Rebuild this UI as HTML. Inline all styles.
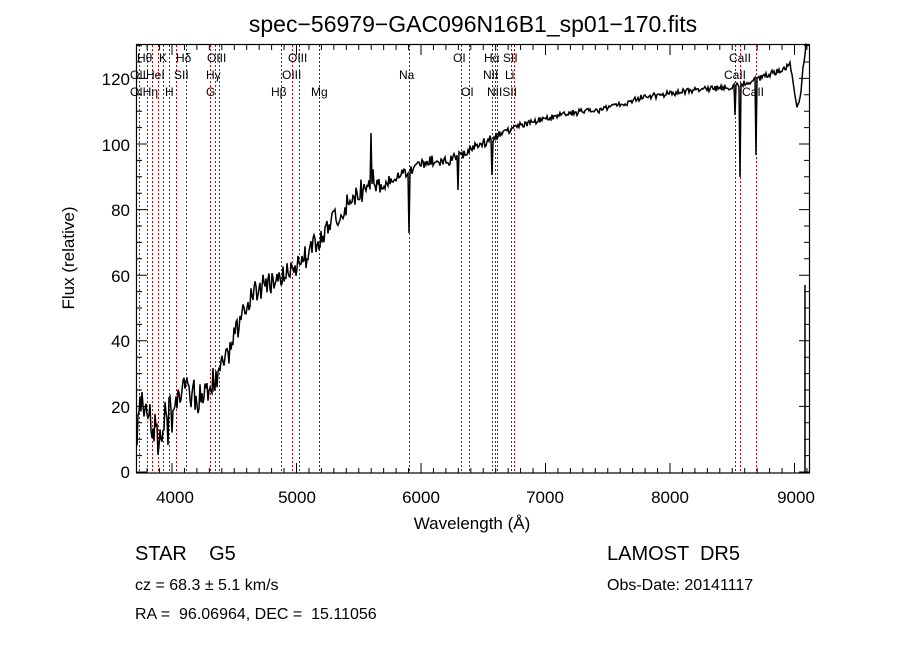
<!DOCTYPE html>
<html><head><meta charset="utf-8"><style>
body{margin:0;background:#fff;}
svg text{font-family:"Liberation Sans",sans-serif;fill:#000;white-space:pre;}
</style></head><body>
<svg id="s" width="900" height="649" xmlns="http://www.w3.org/2000/svg" xml:space="preserve">
<rect width="900" height="649" fill="#fff"/>
<text x="473" y="32" font-size="23" text-anchor="middle">spec−56979−GAC096N16B1_sp01−170.fits</text>
<g id="vl"></g>
<g id="ticks" stroke="#000" stroke-width="1"></g>
<path id="spec" fill="none" stroke="#000" stroke-width="1.5"/>
<rect x="136.5" y="44.5" width="673" height="428.5" fill="none" stroke="#000" stroke-width="1.2"/>
<g font-size="12">
<text x="137" y="62">Hθ</text><text x="159" y="62">K</text><text x="176" y="62">Hδ</text><text x="207" y="62">OIII</text><text x="288" y="62">OIII</text>
<text x="453" y="62">OI</text><text x="484" y="62">Hα</text><text x="503" y="62">SII</text><text x="729" y="62">CaII</text>
<text x="130" y="79">OIIHeI</text><text x="174" y="79">SII</text><text x="206" y="79">Hγ</text><text x="282" y="79">OIII</text><text x="399" y="79">Na</text>
<text x="483" y="79">NII</text><text x="505" y="79">Li</text><text x="724" y="79">CaII</text>
<text x="130" y="96">OIHη</text><text x="165" y="96">H</text><text x="206" y="96">G</text><text x="271" y="96">Hβ</text><text x="311" y="96">Mg</text>
<text x="461" y="96">OI</text><text x="487" y="96">NIISII</text><text x="742" y="96">CaII</text>
</g>
<g font-size="17" text-anchor="end">
<text x="130" y="478">0</text><text x="130" y="413">20</text><text x="130" y="347">40</text><text x="130" y="282">60</text><text x="130" y="216">80</text><text x="130" y="151">100</text><text x="130" y="85">120</text>
</g>
<g font-size="17" text-anchor="middle">
<text x="175" y="503">4000</text><text x="297" y="503">5000</text><text x="421" y="503">6000</text><text x="545" y="503">7000</text><text x="670" y="503">8000</text><text x="796" y="503">9000</text>
<text x="472" y="529">Wavelength (Å)</text>
</g>
<text x="74" y="258" font-size="17" text-anchor="middle" transform="rotate(-90 74 258)">Flux (relative)</text>
<text x="135" y="560" font-size="20">STAR    G5</text>
<text x="135" y="590" font-size="16">cz = 68.3 ± 5.1 km/s</text>
<text x="135" y="619" font-size="16">RA =  96.06964, DEC =  15.11056</text>
<text x="607" y="560" font-size="20">LAMOST  DR5</text>
<text x="607" y="590" font-size="16">Obs-Date: 20141117</text>
</svg>
<script>
var ns="http://www.w3.org/2000/svg";
var vl=document.getElementById('vl');
var red=[139,147,152,158,163,169,176,210,215,219,281,292,299,461,469,495,497,511,514,735,740,756];
var blk=[186,319,409,492];
function line(x,c){var l=document.createElementNS(ns,'line');l.setAttribute('x1',x+.5);l.setAttribute('x2',x+.5);l.setAttribute('y1',45);l.setAttribute('y2',473);l.setAttribute('stroke',c);l.setAttribute('stroke-dasharray','2,2');l.setAttribute('stroke-width','1');vl.appendChild(l);}
red.forEach(function(x){line(x,'#c00000')});blk.forEach(function(x){line(x,'#333')});
var t=document.getElementById('ticks'),d='';
for(var w=3800;w<=9100;w+=100){var x=172+(w-4000)*0.1245;if(x<137||x>809)continue;var L=(w%1000==0)?10:5;d+='M'+x+' 473v-'+L+'M'+x+' 45v'+L;}
for(var f=0;f<=130;f+=5){var y=472-f*3.28;if(y<45)continue;var L=(f%20==0)?10:5;d+='M137 '+y+'h'+L+'M809 '+y+'h-'+L;}
var p=document.createElementNS(ns,'path');p.setAttribute('d',d);p.setAttribute('stroke','#000');t.appendChild(p);
var cp=[[137,440],[140,410],[148,405],[152,430],[160,432],[165,420],[168,405],[172,415],[176,405],[180,395],[200,397],[210,400],[213,385],[220,372],[230,350],[237,330],[245,305],[255,292],[265,285],[275,282],[285,272],[295,265],[305,258],[315,245],[325,232],[335,218],[345,205],[355,197],[365,188],[372,180],[380,190],[390,180],[400,175],[410,170],[420,165],[430,160],[440,162],[450,160],[460,155],[470,150],[480,145],[490,140],[500,135],[510,130],[520,125],[540,120],[560,115],[580,112],[600,110],[620,105],[640,98],[660,95],[680,92],[700,90],[720,88],[730,88],[740,85],[760,78],[775,72],[790,65],[797,105],[800,100],[803,70],[806,45]];
function base(x){for(var i=0;i<cp.length-1;i++){if(x<=cp[i+1][0]){var a=cp[i],b=cp[i+1];return a[1]+(b[1]-a[1])*(x-a[0])/(b[0]-a[0]);}}return 45;}
function rnd(i){var v=Math.sin(i*12.9898+4.1)*43758.5453;return v-Math.floor(v);}
var dips={409:233,735:115,740:177,756:155,458:190,492:175,371:133,330:230,158:455,168:445};
var s='';
for(var x=137;x<=806;x+=1){var a=x<215?18:x<380?12:x<500?5:3;var y=base(x)+(rnd(x)-0.5)*2*a;if(dips[x]!==undefined)y=dips[x];if(y>472)y=472;s+=(s?'L':'M')+x+' '+y.toFixed(1);}
s+='M805 473L805 285';
document.getElementById('spec').setAttribute('d',s);
</script>
</body></html>
